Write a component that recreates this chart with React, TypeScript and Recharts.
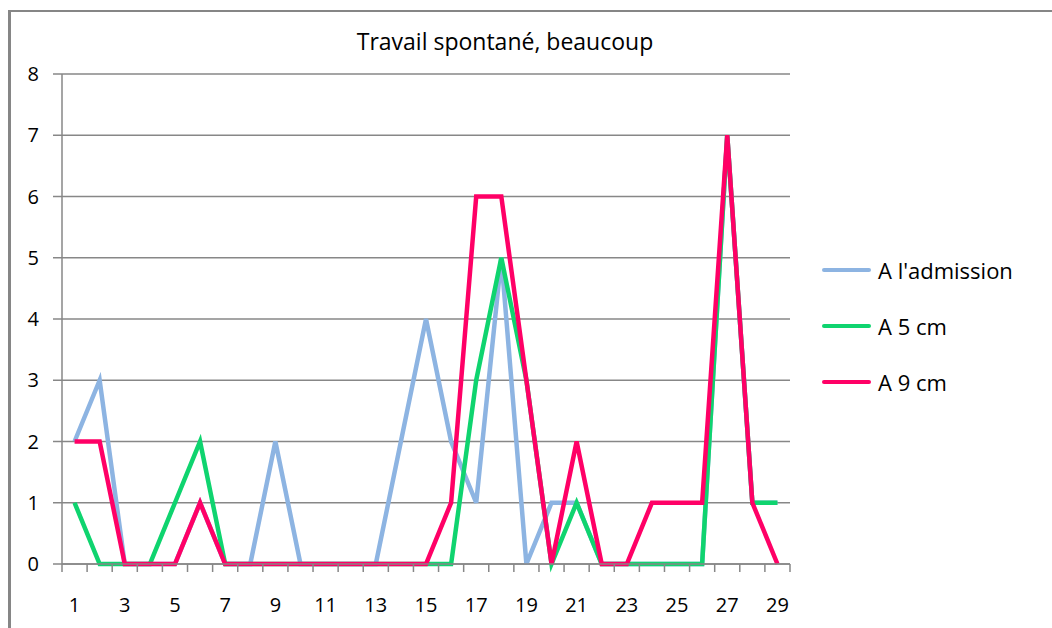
import React from "react";
import { LineChart, Line, XAxis, YAxis, CartesianGrid } from "recharts";

const CATEGORIES = Array.from({ length: 29 }, (_, i) => String(i + 1));
const Y_TICKS = [0, 1, 2, 3, 4, 5, 6, 7, 8];

// values, days 1..29
const ADMISSION = [2, 3, 0, 0, 0, 1, 0, 0, 2, 0, 0, 0, 0, 2, 4, 2, 1, 5, 0, 1, 1, 0, 0, 0, 0, 0, 7, 1, 1];
const CM5 = [1, 0, 0, 0, 1, 2, 0, 0, 0, 0, 0, 0, 0, 0, 0, 0, 3, 5, 3, 0, 1, 0, 0, 0, 0, 0, 7, 1, 1];
const CM9 = [2, 2, 0, 0, 0, 1, 0, 0, 0, 0, 0, 0, 0, 0, 0, 1, 6, 6, 3, 0, 2, 0, 0, 1, 1, 1, 7, 1, 0];

const SERIES = [
  { key: "adm", name: "A l'admission", color: "#8DB4E2", values: ADMISSION },
  { key: "cm5", name: "A 5 cm", color: "#0FD46F", values: CM5 },
  { key: "cm9", name: "A 9 cm", color: "#FF0066", values: CM9 },
];

const W = 1052;
const H = 628;
const MARGIN = { top: 74, right: 262, left: 0, bottom: 4 };
const Y_AXIS_W = 62;
const PLOT_W = W - MARGIN.right - MARGIN.left - Y_AXIS_W;
const BAND = PLOT_W / CATEGORIES.length;
const GRID = "#878787";
const FONT = "'Open Sans', sans-serif";

const chartData = CATEGORIES.map((c, i) => {
  const row: Record<string, string | number> = { day: c };
  SERIES.forEach((s) => {
    row[s.key] = s.values[i];
  });
  return row;
});

// Excel style: tick marks on category boundaries, every other label centred
const XTick = (props: any) => {
  const { x, y, payload, index } = props;
  const i = payload?.index ?? index;
  const last = i === CATEGORIES.length - 1;
  return (
    <g>
      <line x1={x - BAND / 2} x2={x - BAND / 2} y1={y} y2={y + 8} stroke={GRID} strokeWidth={1.5} />
      {last && <line x1={x + BAND / 2} x2={x + BAND / 2} y1={y} y2={y + 8} stroke={GRID} strokeWidth={1.5} />}
      {i % 2 === 0 && (
        <text x={x} y={y + 48} textAnchor="middle" fontSize={20} fill="#000" fontFamily={FONT}>
          {payload.value}
        </text>
      )}
    </g>
  );
};

export default function App() {
  return (
    <div style={{ position: "fixed", left: 0, top: 0, width: W, height: H, background: "#fff" }}>
      <div style={{ position: "absolute", left: 8, top: 10, width: 3, height: H - 10, background: "#868686" }} />
      <div style={{ position: "absolute", left: 8, top: 10, width: W - 8, height: 2, background: "#868686" }} />
      <div
        style={{
          position: "absolute",
          left: 0,
          width: 1010,
          top: 25,
          textAlign: "center",
          fontFamily: FONT,
          fontSize: 23,
          color: "#000",
        }}
      >
        Travail spontané, beaucoup
      </div>
      <div style={{ position: "absolute", left: 822, top: 242, fontFamily: FONT }}>
        {SERIES.map((s) => (
          <div key={s.key} style={{ display: "flex", alignItems: "center", height: 56 }}>
            <div style={{ width: 49, height: 4, background: s.color, borderRadius: 2, marginRight: 7 }} />
            <span style={{ fontSize: 22, color: "#000" }}>{s.name}</span>
          </div>
        ))}
      </div>
      <LineChart width={W} height={H} data={chartData} margin={MARGIN}>
        <CartesianGrid vertical={false} stroke={GRID} strokeWidth={1.5} />
        <XAxis
          dataKey="day"
          interval={0}
          height={60}
          padding={{ left: BAND / 2, right: BAND / 2 }}
          tickLine={false}
          tickSize={0}
          tickMargin={0}
          axisLine={{ stroke: GRID, strokeWidth: 1.5 }}
          tick={<XTick />}
        />
        <YAxis
          domain={[0, 8]}
          ticks={Y_TICKS}
          width={Y_AXIS_W}
          tickSize={9}
          tickMargin={14}
          tickLine={{ stroke: GRID, strokeWidth: 1.5 }}
          axisLine={{ stroke: GRID, strokeWidth: 1.5 }}
          tick={{ fontSize: 20, fill: "#000", fontFamily: FONT }}
        />
        {SERIES.map((s) => (
          <Line
            key={s.key}
            dataKey={s.key}
            name={s.name}
            stroke={s.color}
            strokeWidth={4.5}
            dot={false}
            activeDot={false}
            isAnimationActive={false}
          />
        ))}
      </LineChart>
    </div>
  );
}
